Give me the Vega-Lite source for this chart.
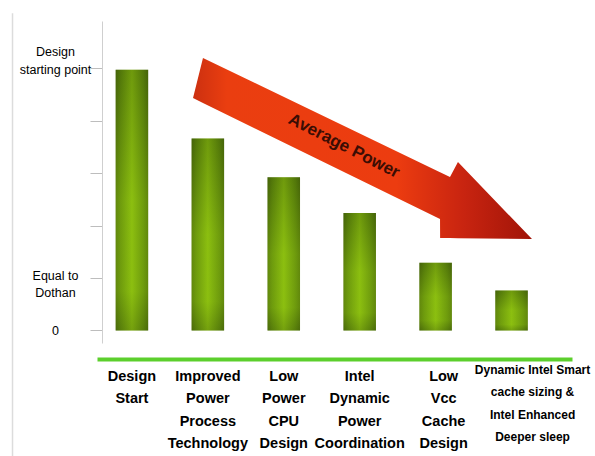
{
  "$schema": "https://vega.github.io/schema/vega-lite/v6.json",
  "width": 475,
  "height": 322,
  "autosize": {"type": "none"},
  "padding": {"left": 97, "top": 21, "right": 23, "bottom": 113},
  "background": "white",
  "config": {"view": {"stroke": null}},
  "datasets": {
    "bars": [
      {"cat": "Design|Start", "v": 4.97},
      {"cat": "Improved|Power|Process|Technology", "v": 3.66},
      {"cat": "Low|Power|CPU|Design", "v": 2.92},
      {"cat": "Intel|Dynamic|Power|Coordination", "v": 2.24},
      {"cat": "Low|Vcc|Cache|Design", "v": 1.29},
      {"cat": "Dynamic Intel Smart|cache sizing &|Intel Enhanced|Deeper sleep", "v": 0.76}
    ],
    "arrow": [
      {"u": 0.803, "top": 4.432, "bot": 4.432},
      {"u": 0.934, "top": 5.195, "bot": 4.338},
      {"u": 4.053, "top": 3.017, "bot": 2.124},
      {"u": 4.054, "top": 3.015, "bot": 1.762},
      {"u": 4.184, "top": 2.925, "bot": 1.762},
      {"u": 4.289, "top": 3.211, "bot": 1.758},
      {"u": 5.263, "top": 1.743, "bot": 1.743}
    ],
    "label": [{"u": 2.79, "v": 3.516, "t": "Average Power"}],
    "frame": [{"u": -1.572, "v": 6.05, "v2": -2.395}]
  },
  "layer": [
    {
      "data": {"name": "bars"},
      "encoding": {
        "x": {
          "field": "cat", "type": "nominal", "sort": null,
          "scale": {"paddingInner": 0.572, "paddingOuter": 0.414, "align": 0.297},
          "axis": {
            "orient": "bottom", "title": null, "offset": 16,
            "domainColor": "#5ccf2c", "domainWidth": 4, "ticks": false,
            "labelAngle": 0, "labelExpr": "split(datum.label, '|')",
            "labelFont": "Liberation Sans",
            "labelFontSize": {"condition": {"test": "indexof(datum.value, 'Smart') >= 0", "value": 12}, "value": 14.5},
            "labelPadding": {"condition": {"test": "indexof(datum.value, 'Smart') >= 0", "value": 5}, "value": 10},
            "labelOffset": {"condition": [
              {"test": "indexof(datum.value, 'Smart') >= 0", "value": 21},
              {"test": "datum.value == 'Low|Vcc|Cache|Design'", "value": 8}
            ], "value": 0},
            "labelFontWeight": "bold", "labelColor": "black",
            "labelLineHeight": 22.5, "labelBaseline": "top",
            "labelOverlap": false, "labelLimit": 0, "labelBound": false
          }
        },
        "y": {
          "field": "v", "type": "quantitative",
          "scale": {"domain": [-0.24, 5.9], "nice": false, "zero": false},
          "axis": {
            "orient": "left", "title": null, "offset": -5, "grid": false,
            "values": [0, 1, 2, 3, 4, 5],
            "labelExpr": "datum.value == 5 ? ['Design', 'starting point'] : datum.value == 1 ? ['Equal to', 'Dothan'] : datum.value == 0 ? '0' : ''",
            "domainColor": "#cfcfcf", "tickColor": "#bdbdbd", "tickSize": 12,
            "labelPadding": 35, "labelAlign": "center", "labelBaseline": "middle",
            "labelFont": "Liberation Sans", "labelFontSize": 12.5,
            "labelLineHeight": 17.5, "labelColor": "black", "labelFlush": false,
            "labelOffset": {"condition": [
              {"test": "datum.value == 5", "value": -16.5},
              {"test": "datum.value == 1", "value": -2.5}
            ], "value": 0}
          }
        }
      },
      "layer": [
        {
          "mark": {
            "type": "bar",
            "color": {
              "gradient": "linear", "x1": 0, "y1": 0, "x2": 1, "y2": 0,
              "stops": [
                {"offset": 0, "color": "#4a6a0a"},
                {"offset": 0.15, "color": "#5f890c"},
                {"offset": 0.5, "color": "#8cbf10"},
                {"offset": 0.85, "color": "#5f890c"},
                {"offset": 1, "color": "#4a6a0a"}
              ]
            }
          }
        },
        {
          "mark": {
            "type": "bar", "opacity": 0.35,
            "color": {
              "gradient": "linear", "x1": 0, "y1": 0, "x2": 0, "y2": 1,
              "stops": [
                {"offset": 0, "color": "#3a5606"},
                {"offset": 0.5, "color": "#8cbf10"},
                {"offset": 0.85, "color": "#8cbf10"},
                {"offset": 1, "color": "#4a6a0a"}
              ]
            }
          }
        }
      ]
    },
    {
      "data": {"name": "arrow"},
      "mark": {
        "type": "area", "interpolate": "linear",
        "color": {
          "gradient": "linear", "x1": 0, "y1": 0, "x2": 1, "y2": 0,
          "stops": [
            {"offset": 0, "color": "#cc3010"},
            {"offset": 0.1, "color": "#ea3e10"},
            {"offset": 0.6, "color": "#ec3c10"},
            {"offset": 0.8, "color": "#c82410"},
            {"offset": 1, "color": "#a01408"}
          ]
        }
      },
      "encoding": {
        "x": {"field": "u", "type": "quantitative", "scale": {"domain": [-0.4605, 5.7895], "nice": false, "zero": false}, "axis": null},
        "y": {"field": "top", "type": "quantitative", "scale": {"domain": [-0.24, 5.9], "nice": false, "zero": false}},
        "y2": {"field": "bot"}
      }
    },
    {
      "data": {"name": "label"},
      "mark": {"type": "text", "angle": 27, "font": "Liberation Sans", "fontSize": 17, "fontWeight": "bold", "color": "#3b0d04", "align": "center", "baseline": "middle"},
      "encoding": {
        "x": {"field": "u", "type": "quantitative", "scale": {"domain": [-0.4605, 5.7895], "nice": false, "zero": false}, "axis": null},
        "y": {"field": "v", "type": "quantitative", "scale": {"domain": [-0.24, 5.9], "nice": false, "zero": false}},
        "text": {"field": "t"}
      }
    },
    {
      "data": {"name": "frame"},
      "mark": {"type": "rule", "color": "#dcdcdc", "strokeWidth": 1.5},
      "encoding": {
        "x": {"field": "u", "type": "quantitative", "scale": {"domain": [-0.4605, 5.7895], "nice": false, "zero": false}, "axis": null},
        "y": {"field": "v", "type": "quantitative", "scale": {"domain": [-0.24, 5.9], "nice": false, "zero": false}},
        "y2": {"field": "v2"}
      }
    }
  ],
  "resolve": {"scale": {"x": "independent"}, "axis": {"x": "independent"}}
}
